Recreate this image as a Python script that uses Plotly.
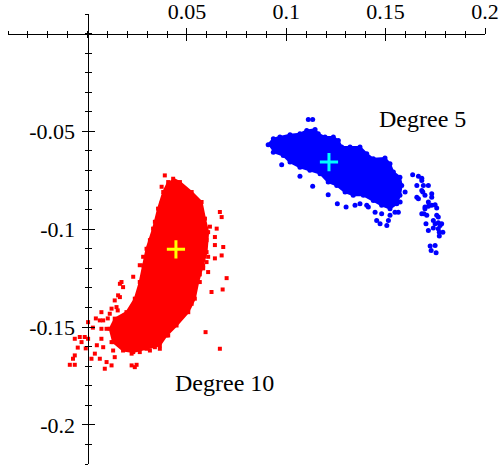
import plotly.graph_objects as go

# ---------------- data ----------------
# Degree 10 cloud: dense core outline + scattered points
red_core_x = [0.0431, 0.0465, 0.0524, 0.0574, 0.0591, 0.0607, 0.0599, 0.0582, 0.0557, 0.0540,
              0.0507, 0.0448, 0.0398, 0.0364, 0.0297, 0.0230, 0.0179, 0.0129, 0.0112, 0.0137,
              0.0196, 0.0238, 0.0263, 0.0280, 0.0297, 0.0330, 0.0355, 0.0381, 0.0406]
red_core_y = [-0.0742, -0.0759, -0.0810, -0.0861, -0.0946, -0.1015, -0.1117, -0.1185, -0.1270, -0.1355,
              -0.1424, -0.1492, -0.1543, -0.1594, -0.1611, -0.1628, -0.1620, -0.1577, -0.1509, -0.1457,
              -0.1424, -0.1355, -0.1270, -0.1185, -0.1100, -0.0997, -0.0895, -0.0810, -0.0759]
red_pts_x = [0.0389, 0.0666, 0.0675, 0.0650, 0.0641, 0.0683, 0.0675, 0.0700, 0.0680, 0.0599,
             0.0607, 0.0565, 0.0624, 0.0594, 0.0666, 0.0524, 0.0171, 0.0179, 0.0163, 0.0121,
             0.0070, 0.0062, 0.0003, -0.0014, -0.0039, -0.0064, -0.0030, 0.0003, 0.0070, 0.0070,
             0.0079, 0.0037, 0.0020, -0.0064, -0.0073, -0.0089, -0.0064, 0.0062, 0.0096, 0.0121,
             0.0087, 0.0222, 0.0238, 0.0247, 0.0137, 0.0196, 0.0179, 0.0222, 0.0263, 0.0314,
             0.0339, 0.0364, 0.0406, 0.0414, 0.0137, 0.0152, 0.0102, 0.0042, 0.0027, 0.0047,
             -0.0009, -0.0049,
             0.0373, 0.0398, 0.0373, 0.0364, 0.0339, 0.0314, 0.0280, 0.0263, 0.0230, 0.0616,
             0.0599, 0.0641, 0.0607, 0.0641, 0.0582, 0.0565, 0.0163, 0.0154, 0.0146, 0.0112,
             0.0079, 0.0096, 0.0121, 0.0129, 0.0222]
red_pts_y = [-0.0725, -0.0912, -0.0938, -0.0997, -0.1040, -0.1091, -0.1134, -0.1250, -0.1308, -0.1168,
             -0.1219, -0.1270, -0.1321, -0.1526, -0.1611, -0.1381, -0.1270, -0.1296, -0.1347, -0.1406,
             -0.1424, -0.1466, -0.1475, -0.1551, -0.1551, -0.1560, -0.1577, -0.1560, -0.1509, -0.1560,
             -0.1603, -0.1636, -0.1662, -0.1645, -0.1662, -0.1693, -0.1693, -0.1662, -0.1679, -0.1696,
             -0.1713, -0.1696, -0.1705, -0.1693, -0.1654, -0.1560, -0.1603, -0.1603, -0.1628, -0.1620,
             -0.1603, -0.1611, -0.1543, -0.1475, -0.1364, -0.1415, -0.1456, -0.1456, -0.1503, -0.1593,
             -0.1609, -0.1605,
             -0.0783, -0.0817, -0.0868, -0.0919, -0.0962, -0.1056, -0.1141, -0.1184, -0.1243, -0.0987,
             -0.1056, -0.1081, -0.1141, -0.1149, -0.1200, -0.1231, -0.1279, -0.1338, -0.1398, -0.1432,
             -0.1466, -0.1509, -0.1577, -0.1620, -0.1636]

# Degree 5 cloud: dense core outline + scattered points
blue_core_x = [0.0909, 0.0935, 0.0968, 0.1019, 0.1069, 0.1103, 0.1145, 0.1161, 0.1195, 0.1237,
               0.1262, 0.1279, 0.1321, 0.1371, 0.1405, 0.1438, 0.1497, 0.1522, 0.1539, 0.1572,
               0.1581, 0.1572, 0.1556, 0.1522, 0.1480, 0.1438, 0.1388, 0.1337, 0.1296, 0.1254,
               0.1211, 0.1170, 0.1119, 0.1069, 0.1019, 0.0985, 0.0935]
blue_core_y = [-0.0568, -0.0537, -0.0529, -0.0517, -0.0512, -0.0495, -0.0490, -0.0512, -0.0529, -0.0529,
               -0.0546, -0.0580, -0.0580, -0.0580, -0.0614, -0.0640, -0.0636, -0.0665, -0.0708, -0.0734,
               -0.0776, -0.0827, -0.0870, -0.0895, -0.0878, -0.0853, -0.0827, -0.0827, -0.0810, -0.0776,
               -0.0759, -0.0716, -0.0699, -0.0683, -0.0657, -0.0623, -0.0606]
blue_pts_x = [0.1111, 0.1133, 0.0977, 0.1069, 0.1133, 0.1211, 0.1257, 0.1301, 0.1346, 0.1371,
              0.1405, 0.1413, 0.1447, 0.1480, 0.1455, 0.1472, 0.1506, 0.1514, 0.1522, 0.1547,
              0.1564, 0.1573, 0.1598, 0.1636, 0.1665, 0.1682, 0.1682, 0.1657, 0.1690, 0.1715,
              0.1682, 0.1687, 0.1698, 0.1657, 0.1665, 0.1732, 0.1732, 0.1715, 0.1698, 0.1715,
              0.1732, 0.1749, 0.1757, 0.1698, 0.1693, 0.1682, 0.1707, 0.1757, 0.1765, 0.1740,
              0.1749, 0.1765, 0.1782, 0.1774, 0.1703, 0.1715, 0.1740, 0.1765, 0.1770, 0.1788,
              0.1770, 0.1724, 0.1749, 0.1729, 0.1754]
blue_pts_y = [-0.0439, -0.0439, -0.0670, -0.0729, -0.0780, -0.0824, -0.0870, -0.0887, -0.0878, -0.0870,
              -0.0878, -0.0887, -0.0913, -0.0921, -0.0955, -0.0972, -0.0981, -0.0955, -0.0929, -0.0913,
              -0.0913, -0.0861, -0.0810, -0.0721, -0.0729, -0.0739, -0.0751, -0.0776, -0.0776, -0.0776,
              -0.0802, -0.0810, -0.0827, -0.0836, -0.0844, -0.0819, -0.0836, -0.0861, -0.0887, -0.0882,
              -0.0878, -0.0875, -0.0892, -0.0895, -0.0921, -0.0921, -0.0929, -0.0929, -0.0938, -0.0955,
              -0.0972, -0.0967, -0.0972, -0.0981, -0.0972, -0.1006, -0.0994, -0.0997, -0.1015, -0.1015,
              -0.1035, -0.1086, -0.1083, -0.1109, -0.1120]

# mean points
mean10_x, mean10_y = [0.0445], [-0.1103]
mean5_x, mean5_y = [0.1215], [-0.0657]

# ticks / labels
x_range = [-0.04, 0.2]
y_range = [-0.22, 0.01]
x_tick_vals = [0.05, 0.1, 0.15, 0.2]
x_tick_text = ["0.05", "0.1", "0.15", "0.2"]
y_tick_vals = [-0.05, -0.1, -0.15, -0.2]
y_tick_text = ["-0.05", "-0.1", "-0.15", "-0.2"]
labels = ["Degree 5", "Degree 10"]
label_x = [0.1683, 0.0691]
label_y = [-0.0439, -0.1788]

# ---------------- figure ----------------
RED = "#ff0000"
BLUE = "#0000ff"
FONT = "Liberation Serif"

fig = go.Figure()

fig.add_trace(go.Scatter(x=red_core_x, y=red_core_y, mode="lines+markers", fill="toself",
                         fillcolor=RED, line=dict(color=RED, width=2),
                         marker=dict(symbol="square", size=4, color=RED), hoverinfo="skip"))
fig.add_trace(go.Scatter(x=red_pts_x, y=red_pts_y, mode="markers",
                         marker=dict(symbol="square", size=4, color=RED), hoverinfo="skip"))
fig.add_trace(go.Scatter(x=blue_core_x, y=blue_core_y, mode="lines+markers", fill="toself",
                         fillcolor=BLUE, line=dict(color=BLUE, width=2),
                         marker=dict(symbol="circle", size=5, color=BLUE), hoverinfo="skip"))
fig.add_trace(go.Scatter(x=blue_pts_x, y=blue_pts_y, mode="markers",
                         marker=dict(symbol="circle", size=5, color=BLUE), hoverinfo="skip"))
fig.add_trace(go.Scatter(x=mean10_x, y=mean10_y, mode="markers",
                         marker=dict(symbol="cross-thin", size=13, line=dict(color="#ffff00", width=3)),
                         hoverinfo="skip"))
fig.add_trace(go.Scatter(x=mean5_x, y=mean5_y, mode="markers",
                         marker=dict(symbol="cross-thin", size=13, line=dict(color="#00ffff", width=3)),
                         hoverinfo="skip"))
# companion (empty) trace for the second set of axes giving crossing ticks
fig.add_trace(go.Scatter(x=[None], y=[None], xaxis="x2", yaxis="y2", showlegend=False, hoverinfo="skip"))

for txt, lx, ly in zip(labels, label_x, label_y):
    fig.add_annotation(x=lx, y=ly, text=txt, showarrow=False,
                       font=dict(family=FONT, size=24, color="black"))

xpos = (0 - y_range[0]) / (y_range[1] - y_range[0])
ypos = (0 - x_range[0]) / (x_range[1] - x_range[0])

common_x = dict(range=x_range, showgrid=False, zeroline=False, showline=True, automargin=False,
                linecolor="black", linewidth=1, anchor="free", position=xpos, side="top",
                tickvals=x_tick_vals, ticktext=x_tick_text, tickcolor="black", tickwidth=1,
                tickfont=dict(family=FONT, size=22, color="black"))
common_y = dict(range=y_range, showgrid=False, zeroline=False, showline=True, automargin=False,
                linecolor="black", linewidth=1, anchor="free", position=ypos, side="left",
                tickvals=y_tick_vals, ticktext=y_tick_text, tickcolor="black", tickwidth=1,
                tickfont=dict(family=FONT, size=22, color="black"))

fig.update_layout(
    width=501, height=470,
    margin=dict(l=8, r=16, t=14, b=6, autoexpand=False),
    paper_bgcolor="white", plot_bgcolor="white",
    showlegend=False,
    xaxis=dict(**common_x, ticks="outside", ticklen=6,
               minor=dict(ticks="outside", ticklen=3, tickmode="linear", tick0=0, dtick=0.01,
                          tickcolor="black", tickwidth=1)),
    yaxis=dict(**common_y, ticks="outside", ticklen=6, ticklabelstandoff=2,
               minor=dict(ticks="outside", ticklen=3, tickmode="linear", tick0=0, dtick=0.01,
                          tickcolor="black", tickwidth=1)),
    xaxis2=dict(**{k: v for k, v in common_x.items() if k != "tickfont"}, overlaying="x",
                ticks="inside", ticklen=6, showticklabels=False,
                minor=dict(ticks="inside", ticklen=3, tickmode="linear", tick0=0, dtick=0.01,
                           tickcolor="black", tickwidth=1)),
    yaxis2=dict(**{k: v for k, v in common_y.items() if k != "tickfont"}, overlaying="y",
                ticks="inside", ticklen=6, showticklabels=False,
                minor=dict(ticks="inside", ticklen=3, tickmode="linear", tick0=0, dtick=0.01,
                           tickcolor="black", tickwidth=1)),
)

# remove the default page margin so the 501x470 figure fills the window exactly
fig.write_html("out.html", config={"displayModeBar": False},
               post_script="document.body.style.margin='0px';")
